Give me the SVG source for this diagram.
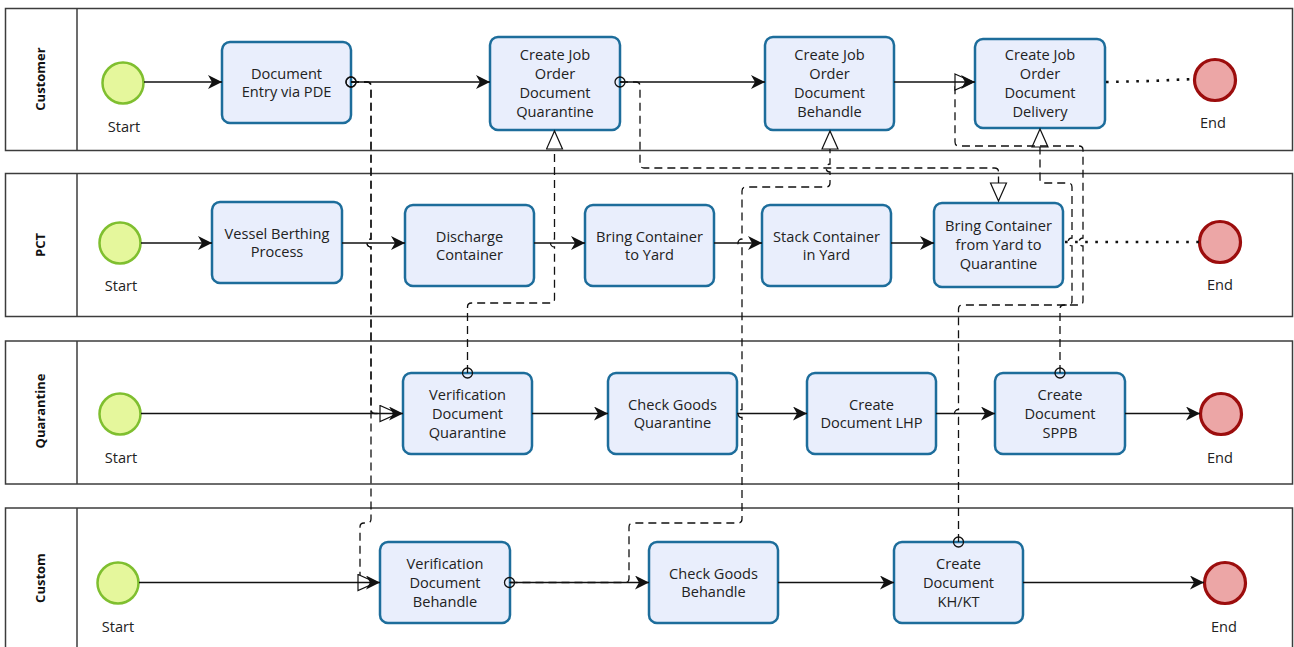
<svg xmlns="http://www.w3.org/2000/svg" width="1294" height="647" viewBox="0 0 1294 647">
<style>
.lane{fill:#fff;stroke:#3c3c3c;stroke-width:1.5}
.lanelbl{font-family:"Open Sans","Noto Sans",sans-serif;font-weight:bold;font-size:13px;fill:#111;text-anchor:middle}
.task rect{fill:#e9eefc;stroke:#1d6d9b;stroke-width:2.5}
.task text,.ev text{font-family:"Open Sans","Noto Sans",sans-serif;font-size:14.6px;fill:#222;text-anchor:middle}
.start circle{fill:#e5f79c;stroke:#7fbf2f;stroke-width:2.5}
.end circle{fill:#eca6a6;stroke:#9c0d0d;stroke-width:3.2}
.seq{fill:none;stroke:#111;stroke-width:1.5;marker-end:url(#seqArrow)}
.msg{fill:none;stroke:#111;stroke-width:1.3;stroke-dasharray:8 5;marker-start:url(#msgCircle);marker-end:url(#msgArrow)}
.dot{fill:none;stroke:#111;stroke-width:2.6;stroke-dasharray:2.6 7.5}
</style>
<defs>
<marker id="seqArrow" markerUnits="userSpaceOnUse" markerWidth="16" markerHeight="16" refX="14" refY="7" orient="auto">
<path d="M0,0 L14,7 L0,14 L4,7 z" fill="#111"/>
</marker>
<marker id="msgArrow" markerUnits="userSpaceOnUse" markerWidth="22" markerHeight="20" refX="19" refY="9" orient="auto">
<path d="M1,1 L19,9 L1,17 z" fill="#fff" stroke="#111" stroke-width="1.2"/>
</marker>
<marker id="msgCircle" markerUnits="userSpaceOnUse" markerWidth="14" markerHeight="14" refX="7" refY="7" orient="auto">
<circle cx="7" cy="7" r="5" fill="none" stroke="#111" stroke-width="1.3"/>
</marker>
</defs>

<g id="lanes">
<g id="lane-customer"><rect class="lane" x="5.5" y="8.5" width="1287" height="142"/><line x1="77" y1="8.5" x2="77" y2="150.5" stroke="#3c3c3c" stroke-width="1.5"/><text class="lanelbl" transform="translate(45,79) rotate(-90)">Customer</text></g>
<g id="lane-pct"><rect class="lane" x="5.5" y="173.5" width="1287" height="143"/><line x1="77" y1="173.5" x2="77" y2="316.5" stroke="#3c3c3c" stroke-width="1.5"/><text class="lanelbl" transform="translate(45,245) rotate(-90)">PCT</text></g>
<g id="lane-quarantine"><rect class="lane" x="5.5" y="341" width="1287" height="143"/><line x1="77" y1="341" x2="77" y2="484" stroke="#3c3c3c" stroke-width="1.5"/><text class="lanelbl" transform="translate(45,411) rotate(-90)">Quarantine</text></g>
<g id="lane-custom"><rect class="lane" x="5.5" y="508" width="1287" height="160"/><line x1="77" y1="508" x2="77" y2="668" stroke="#3c3c3c" stroke-width="1.5"/><text class="lanelbl" transform="translate(45,578) rotate(-90)">Custom</text></g>
</g>

<g id="start-customer" class="ev start"><circle cx="123" cy="83" r="20.5"/><text x="124" y="132">Start</text></g>
<g id="end-customer" class="ev end"><circle cx="1215" cy="80" r="20.5"/><text x="1213" y="128">End</text></g>
<g id="start-pct" class="ev start"><circle cx="120" cy="243" r="20.5"/><text x="121" y="291">Start</text></g>
<g id="end-pct" class="ev end"><circle cx="1220" cy="242" r="20.5"/><text x="1220" y="290">End</text></g>
<g id="start-quarantine" class="ev start"><circle cx="120" cy="414" r="20.5"/><text x="121" y="463">Start</text></g>
<g id="end-quarantine" class="ev end"><circle cx="1221" cy="414" r="20.5"/><text x="1220" y="463">End</text></g>
<g id="start-custom" class="ev start"><circle cx="118" cy="583" r="20.5"/><text x="118" y="632">Start</text></g>
<g id="end-custom" class="ev end"><circle cx="1225" cy="583" r="20.5"/><text x="1224" y="632">End</text></g>

<g id="task-doc-entry" class="task"><rect x="222" y="42" width="129" height="81" rx="8"/><text x="286.5" y="78.5">Document</text><text x="286.5" y="97.2">Entry via PDE</text></g>
<g id="task-cjo-quarantine" class="task"><rect x="490" y="37" width="130" height="93" rx="8"/><text x="555" y="60">Create Job</text><text x="555" y="79">Order</text><text x="555" y="98">Document</text><text x="555" y="117">Quarantine</text></g>
<g id="task-cjo-behandle" class="task"><rect x="765" y="37" width="129" height="93" rx="8"/><text x="829.5" y="60">Create Job</text><text x="829.5" y="79">Order</text><text x="829.5" y="98">Document</text><text x="829.5" y="117">Behandle</text></g>
<g id="task-cjo-delivery" class="task"><rect x="975" y="39" width="130" height="89" rx="8"/><text x="1040" y="60">Create Job</text><text x="1040" y="79">Order</text><text x="1040" y="98">Document</text><text x="1040" y="117">Delivery</text></g>

<g id="task-vessel" class="task"><rect x="212" y="202" width="130" height="81" rx="8"/><text x="277" y="238.7">Vessel Berthing</text><text x="277" y="257.4">Process</text></g>
<g id="task-discharge" class="task"><rect x="405" y="205" width="129" height="81" rx="8"/><text x="469.5" y="241.7">Discharge</text><text x="469.5" y="260.4">Container</text></g>
<g id="task-bring-yard" class="task"><rect x="585" y="205" width="129" height="81" rx="8"/><text x="649.5" y="241.7">Bring Container</text><text x="649.5" y="260.4">to Yard</text></g>
<g id="task-stack" class="task"><rect x="762" y="205" width="129" height="81" rx="8"/><text x="826.5" y="241.7">Stack Container</text><text x="826.5" y="260.4">in Yard</text></g>
<g id="task-bring-quarantine" class="task"><rect x="934" y="203" width="129" height="84" rx="8"/><text x="998.5" y="231.3">Bring Container</text><text x="998.5" y="250">from Yard to</text><text x="998.5" y="268.7">Quarantine</text></g>

<g id="task-verif-quarantine" class="task"><rect x="403" y="373" width="129" height="81" rx="8"/><text x="467.5" y="400.2">Verification</text><text x="467.5" y="418.9">Document</text><text x="467.5" y="437.6">Quarantine</text></g>
<g id="task-check-quarantine" class="task"><rect x="608" y="373" width="129" height="81" rx="8"/><text x="672.5" y="409.5">Check Goods</text><text x="672.5" y="428.2">Quarantine</text></g>
<g id="task-lhp" class="task"><rect x="807" y="373" width="129" height="81" rx="8"/><text x="871.5" y="409.5">Create</text><text x="871.5" y="428.2">Document LHP</text></g>
<g id="task-sppb" class="task"><rect x="995" y="373" width="130" height="81" rx="8"/><text x="1060" y="400.2">Create</text><text x="1060" y="418.9">Document</text><text x="1060" y="437.6">SPPB</text></g>

<g id="task-verif-behandle" class="task"><rect x="380" y="542" width="130" height="81" rx="8"/><text x="445" y="569.2">Verification</text><text x="445" y="587.9">Document</text><text x="445" y="606.6">Behandle</text></g>
<g id="task-check-behandle" class="task"><rect x="649" y="542" width="129" height="81" rx="8"/><text x="713.5" y="578.5">Check Goods</text><text x="713.5" y="597.2">Behandle</text></g>
<g id="task-khkt" class="task"><rect x="894" y="542" width="129" height="81" rx="8"/><text x="958.5" y="569.2">Create</text><text x="958.5" y="587.9">Document</text><text x="958.5" y="606.6">KH/KT</text></g>

<g id="connectors">
<path class="msg" d="M351,82 H367 Q371,82 371,86 V239 A4,4 0 0 0 371,247 V409.5 Q371,413.5 375,413.5 H398"/>
<path class="msg" d="M351,82 H367 Q371,82 371,86 V239 A4,4 0 0 0 371,247 V519 Q371,523 367,523 H364 Q360,523 360,527 V578.5 Q360,582.5 364,582.5 H376"/>
<path class="msg" d="M467.5,373 V307 Q467.5,303 471.5,303 H550.5 Q554.5,303 554.5,299 V247 A4,4 0 0 1 554.5,239 V131"/>
<path class="msg" d="M620,82 H636 Q640,82 640,86 V164 Q640,168 644,168 H994.5 Q998.5,168 998.5,172 V201"/>
<path class="msg" d="M509.5,582.5 H625 Q629,582.5 629,578.5 V527 Q629,523 633,523 H738 Q742,523 742,519 V417.5 A4,4 0 0 1 742,409.5 V247 A4,4 0 0 1 742,239 V191 Q742,187 746,187 H826 Q830,187 830,183 V172 A4,4 0 0 1 830,164 V131"/>
<path class="msg" d="M1060,373 V309 Q1060,305 1064,305 H1068 Q1072,305 1072,301 V246 A4,4 0 0 1 1072,238 V187 Q1072,183 1068,183 H1044 Q1040,183 1040,179 V129"/>
<path class="msg" d="M958.5,542 V417.5 A4,4 0 0 1 958.5,409.5 V309 Q958.5,305 962.5,305 H1079 Q1083,305 1083,301 V246 A4,4 0 0 1 1083,238 V150 Q1083,146 1079,146 H959 Q955,146 955,142 V86 Q955,82 959,82 H973"/>

<path class="dot" d="M1106,82 L1150,81 L1194,79"/>
<path class="dot" d="M1065,242 H1199"/>

<path class="seq" d="M144,82 H222"/>
<path class="seq" d="M351,82 H490"/>
<path class="seq" d="M620,82 H765"/>
<path class="seq" d="M894,82 H975"/>

<path class="seq" d="M141,243 H212"/>
<path class="seq" d="M342,243 H405"/>
<path class="seq" d="M534,243 H585"/>
<path class="seq" d="M714,243 H762"/>
<path class="seq" d="M891,243 H934"/>

<path class="seq" d="M141,413.5 H403"/>
<path class="seq" d="M532,413.5 H608"/>
<path class="seq" d="M737,413.5 H807"/>
<path class="seq" d="M936,413.5 H995"/>
<path class="seq" d="M1125,413.5 H1200"/>

<path class="seq" d="M139,582.5 H380"/>
<path class="seq" d="M510,582.5 H649"/>
<path class="seq" d="M778,582.5 H894"/>
<path class="seq" d="M1023,582.5 H1204"/>
</g>
</svg>
